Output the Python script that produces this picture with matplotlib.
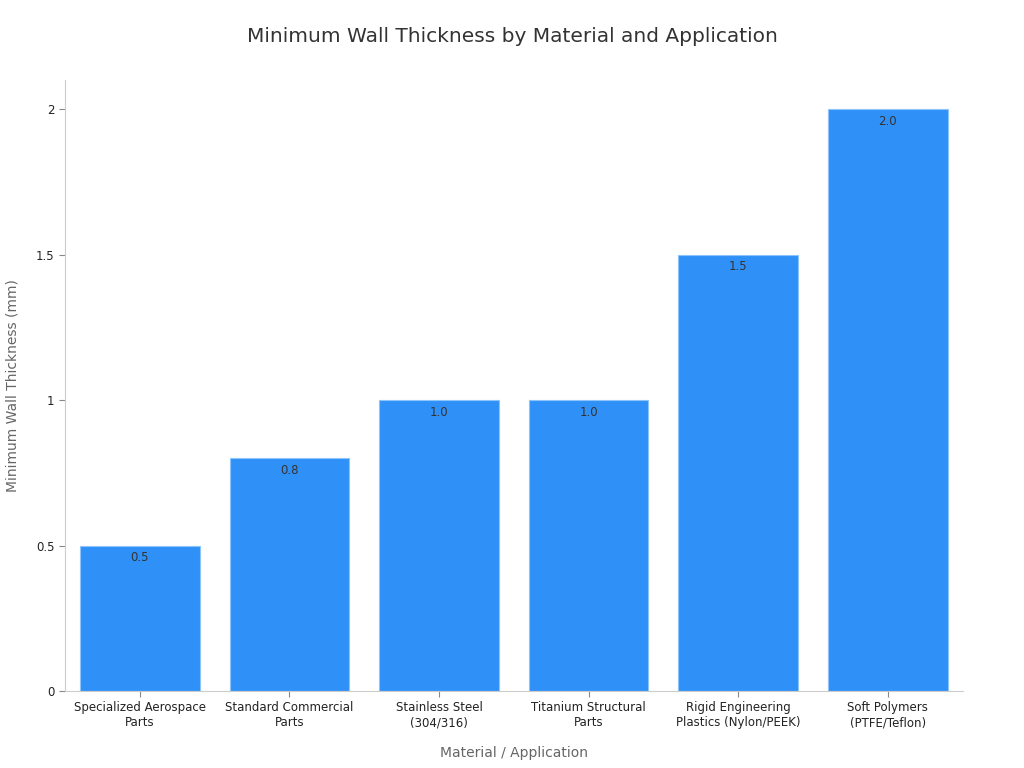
import matplotlib
matplotlib.use("Agg")
import matplotlib.pyplot as plt
import numpy as np

plt.rcParams["font.family"] = ["DejaVu Sans"]

categories = [
    "Specialized Aerospace\nParts",
    "Standard Commercial\nParts",
    "Stainless Steel\n(304/316)",
    "Titanium Structural\nParts",
    "Rigid Engineering\nPlastics (Nylon/PEEK)",
    "Soft Polymers\n(PTFE/Teflon)",
]
thickness = [0.5, 0.8, 1.0, 1.0, 1.5, 2.0]
yticks = [0, 0.5, 1, 1.5, 2]
ytick_labels = ["0", "0.5", "1", "1.5", "2"]

fig = plt.figure(figsize=(10.24, 7.68), dpi=100)
ax = fig.add_axes([0.0635, 0.1003, 0.8765, 0.7955])

x = np.arange(len(categories))
bars = ax.bar(x, thickness, width=0.8, color="#2f91f7", edgecolor="#8cc4fb", linewidth=0.8)

# value labels just inside the top of each bar
for b, v in zip(bars, thickness):
    ax.annotate(f"{v:.1f}", (b.get_x() + b.get_width() / 2, v),
                xytext=(0, -4), textcoords="offset points",
                ha="center", va="top", fontsize=8.5, color="#333333")

ax.set_xlim(-0.5, 5.5)
ax.set_ylim(0, 2.1)
ax.set_xticks(x)
ax.set_xticklabels(categories, fontsize=8.5, color="#222222")
ax.set_yticks(yticks)
ax.set_yticklabels(ytick_labels, fontsize=8.5, color="#222222")

for s in ["top", "right"]:
    ax.spines[s].set_visible(False)
for s in ["left", "bottom"]:
    ax.spines[s].set_color("#cccccc")
ax.tick_params(axis="both", colors="#888888", labelcolor="#222222", length=4)

ax.set_xlabel("Material / Application", fontsize=10, color="#666666", labelpad=12)
ax.set_ylabel("Minimum Wall Thickness (mm)", fontsize=10, color="#666666", labelpad=12)
fig.suptitle("Minimum Wall Thickness by Material and Application",
             fontsize=14.5, color="#333333", y=0.965)

fig.savefig("out.png", dpi=100)
